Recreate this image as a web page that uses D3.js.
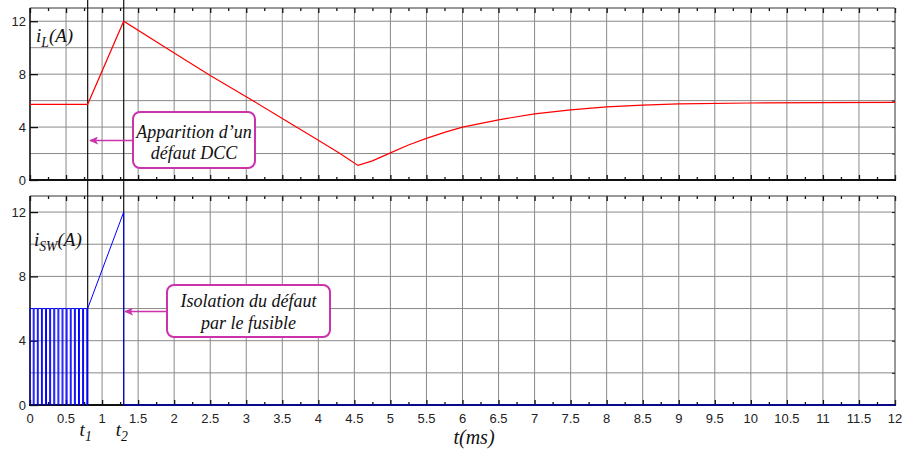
<!DOCTYPE html>
<html><head><meta charset="utf-8">
<script src="https://cdn.jsdelivr.net/npm/d3@7"></script>
<style>body{margin:0;background:#fff}svg{display:block}</style>
</head><body>
<svg id="c" width="902" height="454"></svg>
<script>
// ---- data ----
const xTicksMajor = d3.range(0, 12.0001, 0.5);
const xTickLabels = ["0","0.5","1","1.5","2","2.5","3","3.5","4","4.5","5","5.5","6","6.5","7","7.5","8","8.5","9","9.5","10","10.5","11","11.5","12"];
const yTickLabels = [0, 4, 8, 12];
const yGrid = [2, 4, 6, 8, 10, 12];
const eventTimes = [0.8, 1.3];
const eventLabels = ["1", "2"];
// inductor current iL (t in ms, A)
const iL = [[0,5.72],[0.8,5.72],[1.3,12.0],[2.0,9.6],[2.5,7.9],[3.0,6.3],[3.5,4.65],[4.0,3.0],[4.3,2.0],[4.55,1.1],
  [4.75,1.45],[5.0,2.05],[5.25,2.65],[5.5,3.15],[5.75,3.6],[6.0,4.0],[6.5,4.55],[7.0,5.0],[7.5,5.3],[8.0,5.52],
  [8.5,5.66],[9.0,5.76],[10.0,5.82],[11.0,5.85],[12.0,5.86]];
// switch current iSW (t in ms, A)
const iSW = [[0,0],[0,6],[0.045,6],[0.045,0],[0.057,0],[0.057,6],[0.102,6],[0.102,0],[0.114,0],[0.114,6],
  [0.159,6],[0.159,0],[0.171,0],[0.171,6],[0.216,6],[0.216,0],[0.229,0],[0.229,6],[0.273,6],[0.273,0],
  [0.286,0],[0.286,6],[0.330,6],[0.330,0],[0.343,0],[0.343,6],[0.388,6],[0.388,0],[0.400,0],[0.400,6],
  [0.445,6],[0.445,0],[0.457,0],[0.457,6],[0.502,6],[0.502,0],[0.514,0],[0.514,6],[0.559,6],[0.559,0],
  [0.571,0],[0.571,6],[0.616,6],[0.616,0],[0.629,0],[0.629,6],[0.673,6],[0.673,0],[0.686,0],[0.686,6],
  [0.730,6],[0.730,0],[0.743,0],[0.743,6],[0.788,6],[0.788,0],[0.800,0],[0.800,6],[1.3,12.0],[1.3,0],[12,0]];
const note1 = ["Apparition d\u2019un", "d\u00e9faut DCC"];
const note2 = ["Isolation du d\u00e9faut", "par le fusible"];

// ---- layout ----
const svg = d3.select("#c");
svg.append("rect").attr("width",902).attr("height",454).attr("fill","#fff");
const x = d3.scaleLinear().domain([0,12]).range([30,895]);
const panels = [
  {y: d3.scaleLinear().domain([0,13]).range([180,8]), top:8, bot:180},
  {y: d3.scaleLinear().domain([0,13]).range([405,196]), top:196, bot:405}
];
const minor = d3.range(0.25, 12, 0.5);
const gridC = "#8a8a8a";
const magenta = "#cc33aa";

panels.forEach((p, i) => {
  const g = svg.append("g");
  g.selectAll("line.vg").data(xTicksMajor.filter(d => d > 0 && d < 12)).join("line")
    .attr("x1", d => x(d)).attr("x2", d => x(d)).attr("y1", p.top).attr("y2", p.bot)
    .attr("stroke", gridC).attr("stroke-width", 1);
  g.selectAll("line.hg").data(yGrid).join("line")
    .attr("x1", 30).attr("x2", 895).attr("y1", d => p.y(d)).attr("y2", d => p.y(d))
    .attr("stroke", gridC).attr("stroke-width", 1);
  const tb = d3.axisBottom(x).tickValues(xTicksMajor).tickSize(-5).tickFormat("");
  const tbm = d3.axisBottom(x).tickValues(minor).tickSize(-3).tickFormat("");
  const tt = d3.axisTop(x).tickValues(xTicksMajor).tickSize(-5).tickFormat("");
  const ttm = d3.axisTop(x).tickValues(minor).tickSize(-3).tickFormat("");
  [tb, tbm].forEach(a => g.append("g").attr("transform", `translate(0,${p.bot})`).call(a)
     .call(s => { s.select(".domain").remove(); s.selectAll("line").attr("stroke","#111").attr("stroke-width",1.3); }));
  [tt, ttm].forEach(a => g.append("g").attr("transform", `translate(0,${p.top})`).call(a)
     .call(s => { s.select(".domain").remove(); s.selectAll("line").attr("stroke","#111").attr("stroke-width",1.3); }));
  const ya = d3.axisLeft(p.y).tickValues(yTickLabels).tickSize(-8).tickPadding(4).tickFormat(d3.format("d"));
  g.append("g").attr("transform", "translate(30,0)").call(ya)
    .call(s => { s.select(".domain").remove();
      s.selectAll("line").attr("stroke","#111").attr("stroke-width",1.3);
      s.selectAll("text").attr("x", -4).attr("font-family","Liberation Sans, Arial, sans-serif").attr("font-size",13).attr("fill","#222"); });
  const yr = d3.axisRight(p.y).tickValues(yGrid).tickSize(-3).tickFormat("");
  g.append("g").attr("transform", "translate(895,0)").call(yr)
    .call(s => { s.select(".domain").remove(); s.selectAll("line").attr("stroke","#111"); });
  g.append("line").attr("x1",30).attr("x2",895).attr("y1",p.top).attr("y2",p.top).attr("stroke","#333").attr("stroke-width",1);
  g.append("line").attr("x1",895).attr("x2",895).attr("y1",p.top).attr("y2",p.bot).attr("stroke","#333").attr("stroke-width",1);
  g.append("line").attr("x1",30).attr("x2",30).attr("y1",p.top).attr("y2",p.bot+1).attr("stroke","#111").attr("stroke-width",1.6);
  g.append("line").attr("x1",29).attr("x2",896).attr("y1",p.bot).attr("y2",p.bot).attr("stroke","#111").attr("stroke-width",2);
});

svg.append("g").selectAll("text").data(xTicksMajor).join("text")
  .attr("x", d => x(d)).attr("y", 423).attr("text-anchor","middle")
  .attr("font-family","Liberation Sans, Arial, sans-serif").attr("font-size",13).attr("fill","#222")
  .text((d,i) => xTickLabels[i]);

svg.append("g").selectAll("line").data(eventTimes).join("line")
  .attr("x1", d => x(d)).attr("x2", d => x(d)).attr("y1", 0).attr("y2", 406)
  .attr("stroke","#111").attr("stroke-width",1.2);

const lineTop = d3.line().x(d => x(d[0])).y(d => panels[0].y(d[1]));
const lineBot = d3.line().x(d => x(d[0])).y(d => panels[1].y(d[1]));
svg.append("path").datum(iL).attr("d", lineTop).attr("fill","none").attr("stroke","#ff0000").attr("stroke-width",1.2);
svg.append("path").datum(iSW).attr("d", lineBot).attr("fill","none").attr("stroke","#0000ff").attr("stroke-width",1);

const serif = "Liberation Serif, Times New Roman, serif";
function subLabel(xp, yp, main, sub, rest, size, anchor) {
  const t = svg.append("text").attr("x", xp).attr("y", yp).attr("font-family", serif)
    .attr("font-style","italic").attr("font-size", size).attr("fill","#111").attr("text-anchor", anchor || "start");
  t.append("tspan").text(main);
  t.append("tspan").attr("dy", size*0.25).attr("font-size", size*0.72).text(sub);
  if (rest) t.append("tspan").attr("dy", -size*0.25).text(rest);
}
subLabel(36, 42, "i", "L", "(A)", 19);
subLabel(34, 246, "i", "SW", "(A)", 19);
eventTimes.forEach((t, i) => subLabel(x(t) - 2, 436, "t", eventLabels[i], null, 19, "middle"));
svg.append("text").attr("x", 474).attr("y", 444).attr("text-anchor","middle").attr("font-family", serif)
  .attr("font-style","italic").attr("font-size",20).attr("fill","#111").text("t(ms)");

svg.append("defs").append("marker").attr("id","ah").attr("viewBox","0 0 10 10").attr("refX",9).attr("refY",5)
  .attr("markerWidth",9).attr("markerHeight",8).attr("markerUnits","userSpaceOnUse").attr("orient","auto")
  .attr("preserveAspectRatio","none")
  .append("path").attr("d","M0,0 L10,5 L0,10 L2.5,5 z").attr("fill",magenta);
function note(bx, by, bw, bh, lines, ay, ax, base1, gap) {
  svg.append("line").attr("x1", bx).attr("x2", ax).attr("y1", ay).attr("y2", ay)
    .attr("stroke", magenta).attr("stroke-width", 1.6).attr("marker-end","url(#ah)");
  svg.append("rect").attr("x",bx).attr("y",by).attr("width",bw).attr("height",bh).attr("rx",7)
    .attr("fill","#fff").attr("stroke",magenta).attr("stroke-width",2);
  lines.forEach((l, i) => svg.append("text").attr("x", bx + bw/2).attr("y", base1 + i*gap)
    .attr("text-anchor","middle").attr("font-family", serif).attr("font-style","italic")
    .attr("font-size",18).attr("fill","#111").text(l));
}
note(133, 112, 122, 56, note1, 140.5, 90, 138, 20.5);
note(167, 285, 163, 52, note2, 311.5, 125, 307, 22);
</script>
</body></html>
